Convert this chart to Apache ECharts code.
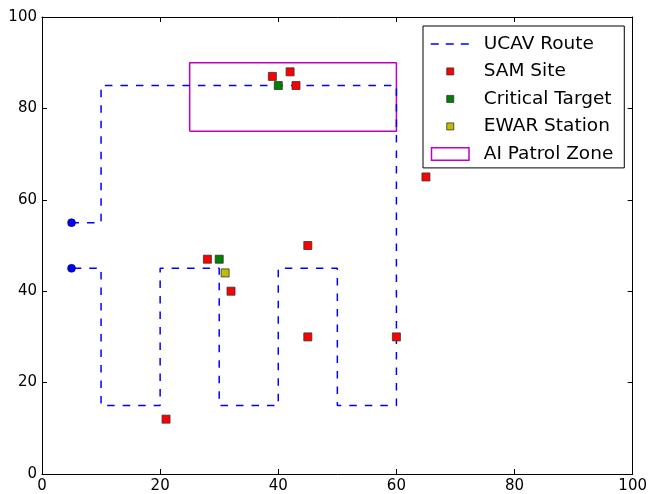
<!DOCTYPE html>
<html><head><meta charset="utf-8">
<script src="https://cdn.jsdelivr.net/npm/echarts@6/dist/echarts.min.js"></script>
<style>html,body{margin:0;padding:0;background:#fff}#c{width:650px;height:494px}</style>
</head><body><div id="c"></div>
<script>
// ---- data ----
const routeX = [5, 10, 10, 60, 60, 50, 50, 40, 40, 30, 30, 20, 20, 10, 10, 5];
const routeY = [55, 55, 85, 85, 15, 15, 45, 45, 15, 15, 45, 45, 15, 15, 45, 45];
const endpointsX = [5, 5];
const endpointsY = [55, 45];
const samX = [39, 42, 43, 28, 32, 21, 45, 45, 60, 65];
const samY = [87, 88, 85, 47, 40, 12, 50, 30, 30, 65];
const targetX = [40, 30];
const targetY = [85, 47];
const ewarX = [31];
const ewarY = [44];
const zoneX = [25, 60, 60, 25, 25];
const zoneY = [75, 75, 90, 90, 75];
const xTicks = [0, 20, 40, 60, 80, 100];
const yTicks = [0, 20, 40, 60, 80, 100];
const legendNames = ['UCAV Route', 'SAM Site', 'Critical Target', 'EWAR Station', 'AI Patrol Zone'];

const pts = (xs, ys) => xs.map((x, i) => [x, ys[i]]);
const FONT = 'DejaVu Sans';

function axis(pos, ticks, showLabel) {
  return {
    type: 'value', position: pos,
    min: ticks[0], max: ticks[ticks.length - 1], interval: ticks[1] - ticks[0],
    axisLine: { show: true, onZero: false, lineStyle: { color: '#000', width: 1 } },
    axisTick: { show: true, inside: true, length: 5, lineStyle: { color: '#000', width: 1 } },
    axisLabel: { show: showLabel, fontSize: 15, color: '#000', fontFamily: FONT, margin: 5,
                 showMinLabel: true, showMaxLabel: true },
    splitLine: { show: false }
  };
}

const W = 39, H = 14;
const bbox = 'M0,0L0.01,0M' + W + ',' + H + 'L' + (W - 0.01) + ',' + H;
const dashIcon = 'path://' + bbox + 'M0,6.25h8v1.5h-8zM15,6.25h8v1.5h-8zM30,6.25h8v1.5h-8z';
const sqIcon = 'path://' + bbox + 'M16,3.5h7v7h-7z';
const rectIcon = 'path://' + bbox + 'M0.75,0.75h37.5v12.5h-37.5z';

const sqStyle = (c) => ({ color: c, borderColor: '#333', borderWidth: 0.8, opacity: 1 });

const option = {
  animation: false,
  backgroundColor: '#fff',
  grid: { left: 42, right: 17, top: 17, bottom: 20, containLabel: false },
  xAxis: [axis('bottom', xTicks, true), axis('top', xTicks, false)],
  yAxis: [axis('left', yTicks, true), axis('right', yTicks, false)],
  legend: {
    left: 423, top: 26, orient: 'vertical',
    padding: [8.4, 11, 4.5, 7],
    itemWidth: W, itemHeight: H, itemGap: 8.5,
    backgroundColor: '#fff', borderColor: '#000', borderWidth: 1,
    selectedMode: false,
    textStyle: { fontSize: 18.5, fontFamily: FONT, color: '#000', lineHeight: 14, padding: [0, 0, 0, 9] },
    data: [
      { name: legendNames[0], icon: dashIcon, itemStyle: { color: '#0000ff', borderWidth: 0, opacity: 1 } },
      { name: legendNames[1], icon: sqIcon, itemStyle: sqStyle('#ff0000') },
      { name: legendNames[2], icon: sqIcon, itemStyle: sqStyle('#008000') },
      { name: legendNames[3], icon: sqIcon, itemStyle: sqStyle('#bfbf00') },
      { name: legendNames[4], icon: rectIcon, itemStyle: { color: 'rgba(0,0,0,0)', borderColor: '#bf00bf', borderWidth: 1.5, opacity: 1 } }
    ]
  },
  series: [
    { name: legendNames[4], type: 'line', data: pts(zoneX, zoneY), symbol: 'none',
      lineStyle: { color: '#bf00bf', width: 1.5 }, itemStyle: { color: '#bf00bf' }, silent: true, z: 2 },
    { name: legendNames[0], type: 'line', data: pts(routeX, routeY), symbol: 'none',
      lineStyle: { color: '#0000ff', width: 1.5, type: [7.5, 8] }, itemStyle: { color: '#0000ff' }, silent: true, z: 3 },
    { name: 'endpoints', type: 'scatter', data: pts(endpointsX, endpointsY), symbol: 'circle', symbolSize: 8,
      itemStyle: { color: '#0000ff', borderColor: '#000', borderWidth: 0.5, opacity: 1 }, silent: true, z: 4 },
    { name: legendNames[1], type: 'scatter', data: pts(samX, samY), symbol: 'rect', symbolSize: 8,
      itemStyle: sqStyle('#ff0000'), silent: true, z: 5 },
    { name: legendNames[2], type: 'scatter', data: pts(targetX, targetY), symbol: 'rect', symbolSize: 8,
      itemStyle: sqStyle('#008000'), silent: true, z: 5 },
    { name: legendNames[3], type: 'scatter', data: pts(ewarX, ewarY), symbol: 'rect', symbolSize: 8,
      itemStyle: sqStyle('#bfbf00'), silent: true, z: 5 }
  ]
};

const chart = echarts.init(document.getElementById('c'), null, { renderer: 'canvas' });
chart.setOption(option);
</script>
</body></html>
